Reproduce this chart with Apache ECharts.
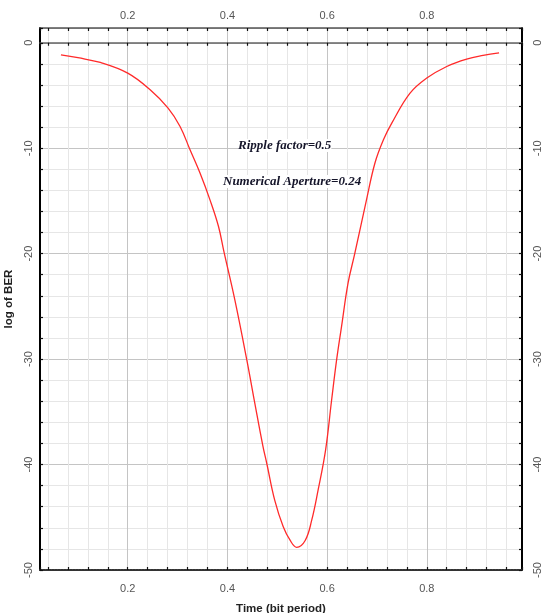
<!DOCTYPE html>
<html>
<head>
<meta charset="utf-8">
<script src="https://cdn.jsdelivr.net/npm/echarts@6/dist/echarts.min.js"></script>
<style>
  html, body { margin: 0; padding: 0; background: #fff; }
  #chart { width: 542px; height: 613px; }
</style>
</head>
<body>
<div id="chart"></div>
<script>
// time (bit period) and log of BER
const timeVals = [0.066, 0.1, 0.145, 0.2, 0.245, 0.281, 0.305, 0.325, 0.345, 0.365,
  0.382, 0.393, 0.415, 0.439, 0.455, 0.471, 0.479, 0.495, 0.512, 0.526,
  0.539, 0.556, 0.569, 0.582, 0.597, 0.609, 0.619, 0.629, 0.642, 0.655,
  0.679, 0.696, 0.713, 0.73, 0.766, 0.8, 0.84, 0.88, 0.913, 0.945];
const berVals = [-1.14, -1.42, -1.87, -2.88, -4.46, -6.2, -7.94, -10.15, -12.36, -14.9,
  -17.4, -19.8, -24.4, -30.1, -34.2, -38.2, -39.9, -43.4, -45.9, -47.2,
  -47.85, -47.2, -45.3, -42.4, -38.6, -33.9, -30.1, -26.9, -22.8, -20.1,
  -14.9, -11.4, -9.2, -7.6, -4.8, -3.35, -2.25, -1.55, -1.2, -0.95];
const notes = ['Ripple factor=0.5', 'Numerical Aperture=0.24'];

const chart = echarts.init(document.getElementById('chart'));

const labelFont = { color: '#555', fontFamily: 'Arial, Liberation Sans', fontSize: 11 };
const tickStyle = { show: true, inside: true, length: 3, lineStyle: { color: '#111', width: 1.2 } };
const minorStyle = { show: true, splitNumber: 5, length: 3, lineStyle: { color: '#111', width: 1.2 } };

chart.setOption({
  animation: false,
  backgroundColor: '#fff',
  grid: { left: 40, right: 20, top: 28, bottom: 43, containLabel: false, outerBoundsMode: 'none' },
  xAxis: [
    {
      type: 'value', position: 'bottom', min: 0.024, max: 0.991, splitNumber: 5,
      name: 'Time (bit period)', nameLocation: 'middle', nameGap: 33,
      nameTextStyle: { color: '#222', fontWeight: 'bold', fontSize: 11.5, fontFamily: 'Arial, Liberation Sans' },
      axisLine: { onZero: false, lineStyle: { color: '#333', width: 2, type: [2, 1] } },
      axisTick: tickStyle, minorTick: minorStyle,
      axisLabel: Object.assign({ margin: 13, showMinLabel: false, showMaxLabel: false }, labelFont),
      splitLine: { show: true, lineStyle: { color: '#c4c4c4', width: 1 } },
      minorSplitLine: { show: true, lineStyle: { color: '#e6e6e6', width: 1 } }
    },
    {
      type: 'value', position: 'top', min: 0.024, max: 0.991, splitNumber: 5,
      axisLine: { onZero: false, lineStyle: { color: '#555', width: 1.5 } },
      axisTick: tickStyle, minorTick: minorStyle,
      axisLabel: Object.assign({ margin: 7, showMinLabel: false, showMaxLabel: false }, labelFont),
      splitLine: { show: false }
    },
    {
      // the zero line
      type: 'value', position: 'top', min: 0.024, max: 0.991, splitNumber: 5,
      axisLine: { onZero: true, onZeroAxisIndex: 1, lineStyle: { color: '#666', width: 1.5 } },
      axisTick: tickStyle, minorTick: minorStyle,
      axisLabel: { show: false },
      splitLine: { show: false }
    }
  ],
  yAxis: [
    {
      type: 'value', position: 'left', min: -50, max: 1.4, splitNumber: 5,
      name: 'log of BER', nameLocation: 'middle', nameGap: 24,
      nameTextStyle: { color: '#222', fontWeight: 'bold', fontSize: 11.5, fontFamily: 'Arial, Liberation Sans' },
      axisLine: { onZero: false, lineStyle: { color: '#000', width: 2 } },
      axisTick: tickStyle, minorTick: minorStyle,
      axisLabel: Object.assign({ margin: 6, rotate: 90, showMaxLabel: false }, labelFont),
      splitLine: { show: true, lineStyle: { color: '#c4c4c4', width: 1 } },
      minorSplitLine: { show: true, lineStyle: { color: '#e6e6e6', width: 1 } }
    },
    {
      type: 'value', position: 'right', min: -50, max: 1.4, splitNumber: 5,
      axisLine: { onZero: false, lineStyle: { color: '#000', width: 2 } },
      axisTick: tickStyle, minorTick: minorStyle,
      axisLabel: Object.assign({ margin: 10, rotate: 90, showMaxLabel: false }, labelFont),
      splitLine: { show: false }
    }
  ],
  graphic: [
    {
      type: 'text', left: 238, top: 139, z: 10,
      style: { text: notes[0], fill: '#15152a', font: 'italic bold 13px "Liberation Serif"', backgroundColor: '#fff' }
    },
    {
      type: 'text', left: 223, top: 175, z: 10,
      style: { text: notes[1], fill: '#15152a', font: 'italic bold 13px "Liberation Serif"', backgroundColor: '#fff' }
    }
  ],
  series: [
    {
      type: 'line',
      xAxisIndex: 0, yAxisIndex: 0,
      data: timeVals.map((t, i) => [t, berVals[i]]),
      showSymbol: false, smooth: 0.4,
      lineStyle: { color: '#ff2a2a', width: 1.3 }
    }
  ]
});
</script>
</body>
</html>
